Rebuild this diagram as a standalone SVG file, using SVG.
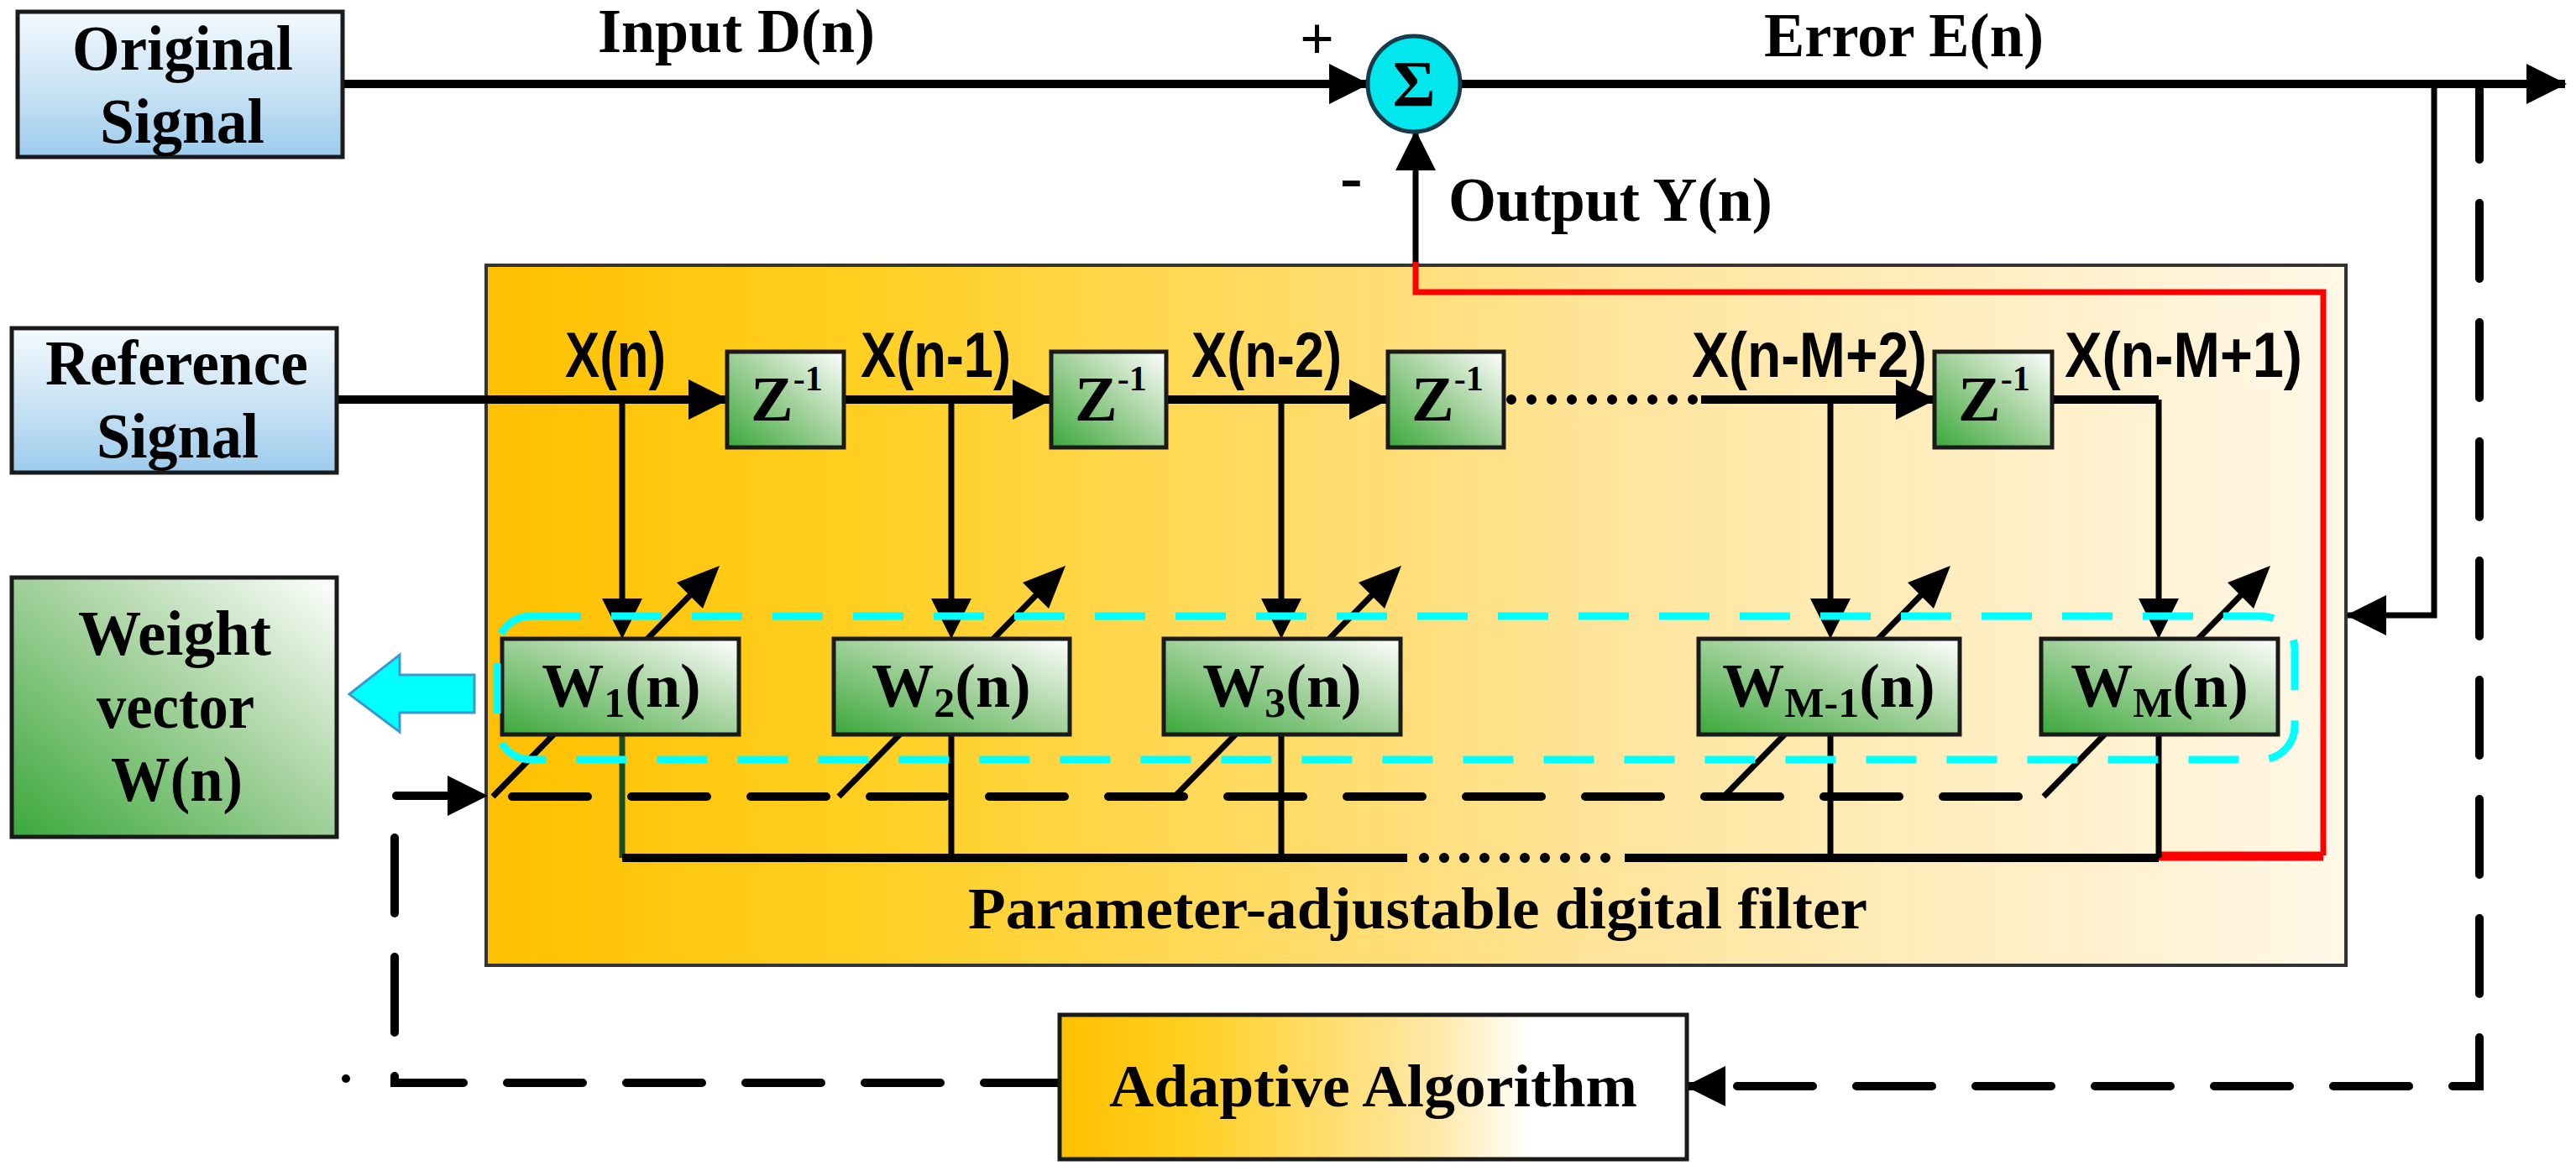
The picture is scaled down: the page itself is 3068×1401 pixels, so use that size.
<svg xmlns="http://www.w3.org/2000/svg" width="3068" height="1401" viewBox="0 0 3068 1401">
<defs>
<linearGradient id="gBlue" x1="0" y1="0" x2="0" y2="1"><stop offset="0" stop-color="#f4fafe"/><stop offset="0.6" stop-color="#c3dff3"/><stop offset="1" stop-color="#9ccbec"/></linearGradient>
<linearGradient id="gGreen" x1="0" y1="1" x2="1" y2="0"><stop offset="0" stop-color="#3aa83a"/><stop offset="0.55" stop-color="#a9d4a2"/><stop offset="1" stop-color="#ffffff"/></linearGradient>
<linearGradient id="gFilter" x1="0" y1="0" x2="1" y2="0"><stop offset="0" stop-color="#ffc000"/><stop offset="0.2" stop-color="#ffcf20"/><stop offset="0.6" stop-color="#ffe49a"/><stop offset="1" stop-color="#fff8e8"/></linearGradient>
<linearGradient id="gAdapt" x1="0" y1="0" x2="1" y2="0"><stop offset="0" stop-color="#ffc000"/><stop offset="0.2" stop-color="#ffcf20"/><stop offset="0.6" stop-color="#ffe8a8"/><stop offset="0.75" stop-color="#ffffff"/><stop offset="1" stop-color="#ffffff"/></linearGradient>
<marker id="ah" viewBox="0 0 48 48" markerWidth="48" markerHeight="48" markerUnits="userSpaceOnUse" refX="46" refY="24" orient="auto"><path d="M0,0 L48,24 L0,48 z" fill="#000"/></marker>
<path id="tapHead" d="M-24,-48 L24,-48 L0,0 z" fill="#000"/>
<path id="diagHead" d="M0,0 L-20,51 L-51,20 z" fill="#000"/>
</defs>
<style>
.box{stroke:#1a1a1a;stroke-width:5}
.t{font-family:"Liberation Serif","Times New Roman",serif;font-weight:bold;fill:#000}
.s{font-family:"Liberation Sans",Arial,sans-serif;font-weight:bold;fill:#000}
.ln{fill:none;stroke:#000;stroke-width:10}
.tap{fill:none;stroke:#000;stroke-width:7}
.dash{fill:none;stroke:#000;stroke-width:10;stroke-dasharray:90 52;stroke-linecap:round}
.dot{fill:none;stroke:#000;stroke-width:12;stroke-dasharray:0 24;stroke-linecap:round}
.red{fill:none;stroke:#ff0000;stroke-width:7}
</style>

<g id="filter"><rect x="579" y="316" width="2215" height="834" fill="url(#gFilter)" stroke="#333" stroke-width="4"/>
<text class="t" x="1153" y="1106" font-size="70" textLength="1071" lengthAdjust="spacingAndGlyphs">Parameter-adjustable digital filter</text></g>

<g id="connectors">
<line class="ln" x1="408" y1="100" x2="1629" y2="100" marker-end="url(#ah)"/>
<line class="ln" x1="1739" y1="100" x2="3055" y2="100" marker-end="url(#ah)"/>
<line class="tap" x1="1686" y1="315" x2="1686" y2="157" marker-end="url(#ah)"/>
<path class="red" d="M1686,312 V348 H2767 V1019"/>
<line x1="2571" y1="1020" x2="2767" y2="1020" stroke="#ff0000" stroke-width="11"/>
<path class="tap" d="M2899,100 V733 H2796" marker-end="url(#ah)"/>
<path class="dash" d="M2953,100 V1294 H2009" marker-end="url(#ah)"/>
<path class="dash" d="M1262,1290 H470 V948 H579" marker-end="url(#ah)"/>
<circle cx="412" cy="1285" r="5" fill="#000"/>
<line class="ln" x1="401" y1="476" x2="866" y2="476" marker-end="url(#ah)"/>
<line class="ln" x1="1005" y1="476" x2="1252" y2="476" marker-end="url(#ah)"/>
<line class="ln" x1="1389" y1="476" x2="1653" y2="476" marker-end="url(#ah)"/>
<line class="dot" x1="1800" y1="476" x2="2020" y2="476"/>
<line class="ln" x1="2026" y1="476" x2="2304" y2="476" marker-end="url(#ah)"/>
<path class="ln" d="M2444,476 H2571"/>
<line class="dash" x1="610" y1="949" x2="2434" y2="949"/>
<line x1="741" y1="875" x2="741" y2="1022" stroke="#1f4d1f" stroke-width="7"/>
<line class="tap" x1="1133" y1="875" x2="1133" y2="1022"/>
<line class="tap" x1="1526" y1="875" x2="1526" y2="1022"/>
<line class="tap" x1="2180" y1="875" x2="2180" y2="1022"/>
<line class="tap" x1="2571" y1="875" x2="2571" y2="1022"/>
<line class="ln" x1="741" y1="1022" x2="1676" y2="1022"/>
<line class="dot" x1="1696" y1="1022" x2="1920" y2="1022"/>
<line class="ln" x1="1935" y1="1022" x2="2571" y2="1022"/>
<line class="tap" x1="741" y1="476" x2="741" y2="715"/><use href="#tapHead" x="741" y="761"/>
<line class="tap" x1="1133" y1="476" x2="1133" y2="715"/><use href="#tapHead" x="1133" y="761"/>
<line class="tap" x1="1526" y1="476" x2="1526" y2="715"/><use href="#tapHead" x="1526" y="761"/>
<line class="tap" x1="2180" y1="476" x2="2180" y2="715"/><use href="#tapHead" x="2180" y="761"/>
<line class="tap" x1="2571" y1="476" x2="2571" y2="715"/><use href="#tapHead" x="2571" y="761"/>
<line class="tap" x1="587" y1="949" x2="822" y2="709"/><use href="#diagHead" x="857" y="674"/>
<line class="tap" x1="999" y1="949" x2="1234" y2="709"/><use href="#diagHead" x="1269" y="674"/>
<line class="tap" x1="1399" y1="949" x2="1634" y2="709"/><use href="#diagHead" x="1669" y="674"/>
<line class="tap" x1="2053" y1="949" x2="2288" y2="709"/><use href="#diagHead" x="2323" y="674"/>
<line class="tap" x1="2434" y1="949" x2="2669" y2="709"/><use href="#diagHead" x="2704" y="674"/>
</g>

<g id="original"><rect class="box" x="21" y="14" width="387" height="173" fill="url(#gBlue)"/>
<text class="t" x="86" y="83" font-size="76" textLength="263" lengthAdjust="spacingAndGlyphs">Original</text>
<text class="t" x="119" y="170" font-size="76" textLength="196" lengthAdjust="spacingAndGlyphs">Signal</text></g>

<g id="reference"><rect class="box" x="14" y="391" width="387" height="172" fill="url(#gBlue)"/>
<text class="t" x="54" y="458" font-size="76" textLength="313" lengthAdjust="spacingAndGlyphs">Reference</text>
<text class="t" x="115" y="545" font-size="76" textLength="193" lengthAdjust="spacingAndGlyphs">Signal</text></g>

<g id="weight"><rect class="box" x="14" y="688" width="387" height="309" fill="url(#gGreen)"/>
<text class="t" x="93" y="780" font-size="76" textLength="230" lengthAdjust="spacingAndGlyphs">Weight</text>
<text class="t" x="115" y="867" font-size="76" textLength="188" lengthAdjust="spacingAndGlyphs">vector</text>
<text class="t" x="132" y="954" font-size="76" textLength="157" lengthAdjust="spacingAndGlyphs">W(n)</text></g>

<g id="sum"><ellipse cx="1684" cy="100" rx="55" ry="57" fill="#00e8ee" stroke="#1a3a4a" stroke-width="5"/>
<text class="t" x="1684" y="126" font-size="78" text-anchor="middle">Σ</text></g>

<g id="adaptive"><rect class="box" x="1262" y="1209" width="747" height="172" fill="url(#gAdapt)"/>
<text class="t" x="1321" y="1318" font-size="72" textLength="629" lengthAdjust="spacingAndGlyphs">Adaptive Algorithm</text></g>

<g id="z1"><rect class="box" x="866" y="419" width="139" height="114" fill="url(#gGreen)"/><text class="t" x="894" y="501" font-size="76">Z<tspan font-size="42" dy="-36">-1</tspan></text></g>
<g id="z2"><rect class="box" x="1252" y="419" width="137" height="114" fill="url(#gGreen)"/><text class="t" x="1280" y="501" font-size="76">Z<tspan font-size="42" dy="-36">-1</tspan></text></g>
<g id="z3"><rect class="box" x="1653" y="419" width="138" height="114" fill="url(#gGreen)"/><text class="t" x="1681" y="501" font-size="76">Z<tspan font-size="42" dy="-36">-1</tspan></text></g>
<g id="z4"><rect class="box" x="2304" y="419" width="140" height="114" fill="url(#gGreen)"/><text class="t" x="2332" y="501" font-size="76">Z<tspan font-size="42" dy="-36">-1</tspan></text></g>

<g id="w1"><rect class="box" x="598" y="761" width="282" height="114" fill="url(#gGreen)"/><text class="t" x="740" y="842" font-size="74" text-anchor="middle">W<tspan font-size="50" dy="12">1</tspan><tspan dy="-12">(n)</tspan></text></g>
<g id="w2"><rect class="box" x="993" y="761" width="281" height="114" fill="url(#gGreen)"/><text class="t" x="1133" y="842" font-size="74" text-anchor="middle">W<tspan font-size="50" dy="12">2</tspan><tspan dy="-12">(n)</tspan></text></g>
<g id="w3"><rect class="box" x="1386" y="761" width="282" height="114" fill="url(#gGreen)"/><text class="t" x="1527" y="842" font-size="74" text-anchor="middle">W<tspan font-size="50" dy="12">3</tspan><tspan dy="-12">(n)</tspan></text></g>
<g id="wm1"><rect class="box" x="2023" y="761" width="311" height="114" fill="url(#gGreen)"/><text class="t" x="2178" y="842" font-size="74" text-anchor="middle">W<tspan font-size="50" dy="12">M-1</tspan><tspan dy="-12">(n)</tspan></text></g>
<g id="wm"><rect class="box" x="2431" y="761" width="282" height="114" fill="url(#gGreen)"/><text class="t" x="2572" y="842" font-size="74" text-anchor="middle">W<tspan font-size="50" dy="12">M</tspan><tspan dy="-12">(n)</tspan></text></g>

<g id="labels">
<text class="t" x="712" y="62" font-size="74" textLength="330" lengthAdjust="spacingAndGlyphs">Input D(n)</text>
<text class="t" x="2101" y="67" font-size="74" textLength="333" lengthAdjust="spacingAndGlyphs">Error E(n)</text>
<text class="t" x="1725" y="263" font-size="74" textLength="386" lengthAdjust="spacingAndGlyphs">Output Y(n)</text>
<text class="t" x="1548" y="70" font-size="72">+</text>
<text class="t" x="1596" y="238" font-size="80">-</text>
<text class="s" x="673" y="449" font-size="76" textLength="120" lengthAdjust="spacingAndGlyphs">X(n)</text>
<text class="s" x="1025" y="449" font-size="76" textLength="179" lengthAdjust="spacingAndGlyphs">X(n-1)</text>
<text class="s" x="1419" y="449" font-size="76" textLength="179" lengthAdjust="spacingAndGlyphs">X(n-2)</text>
<text class="s" x="2015" y="449" font-size="76" textLength="280" lengthAdjust="spacingAndGlyphs">X(n-M+2)</text>
<text class="s" x="2459" y="449" font-size="76" textLength="283" lengthAdjust="spacingAndGlyphs">X(n-M+1)</text>
</g>

<g id="weight-group">
<rect x="592" y="734" width="2141" height="171" rx="40" fill="none" stroke="#00ffff" stroke-width="9" stroke-dasharray="60 36"/>
<polygon points="416,827 476,780 476,804 565,804 565,849 476,849 476,872" fill="#00ffff" stroke="#3a9ad0" stroke-width="3"/>
</g>
</svg>
